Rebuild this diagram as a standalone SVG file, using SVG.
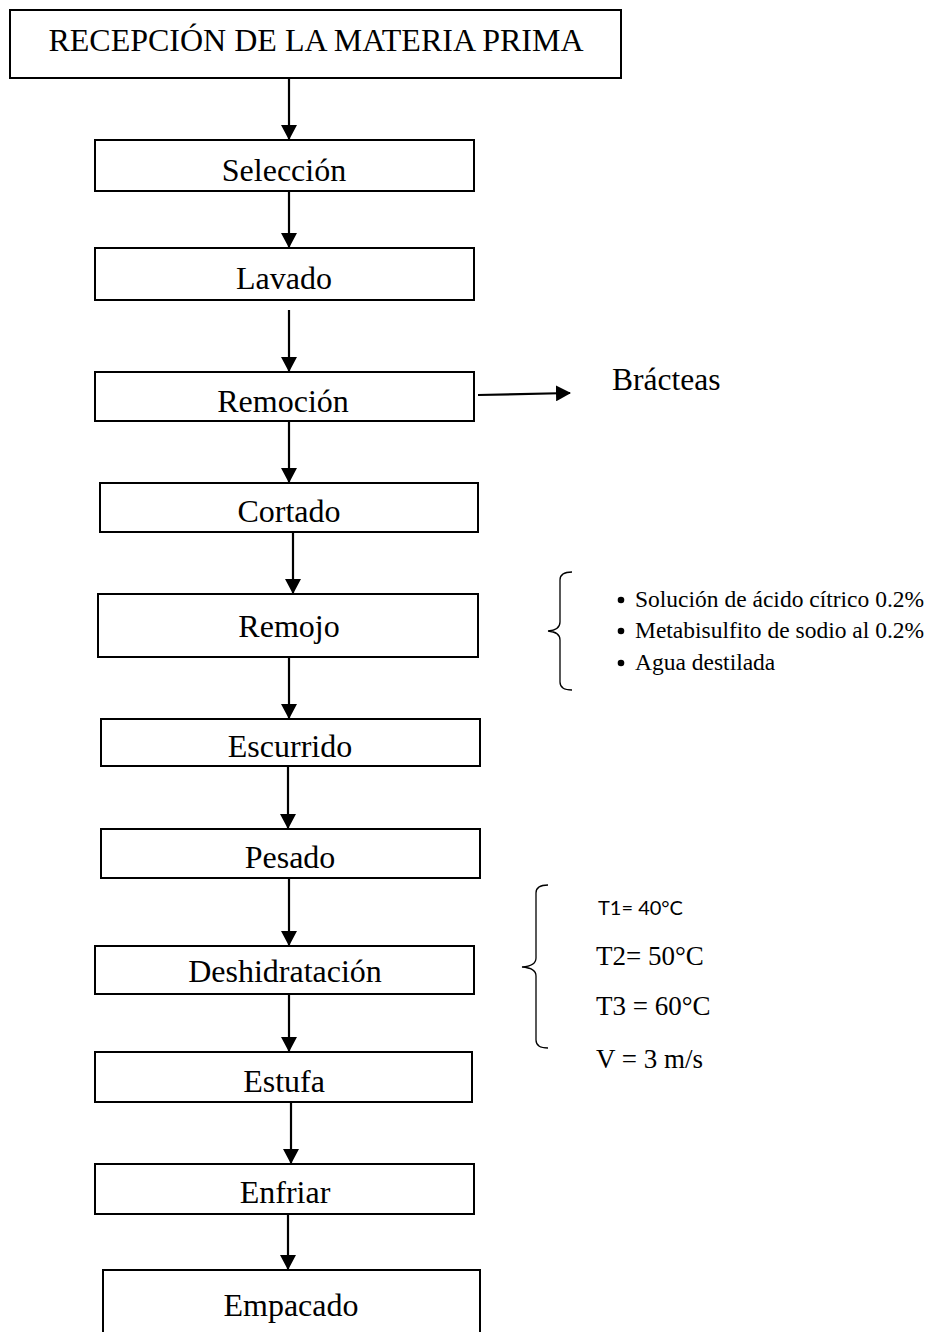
<svg xmlns="http://www.w3.org/2000/svg" width="936" height="1332" viewBox="0 0 936 1332">
<style>
.box{fill:#fff;stroke:#000;stroke-width:2}
.lbl{font-family:"Liberation Serif","Times New Roman",serif;font-size:32px;fill:#000;text-anchor:middle}
.side{font-family:"Liberation Serif","Times New Roman",serif;fill:#000}
.sans{font-family:Lato,"Liberation Sans",sans-serif;fill:#000}
.con{stroke:#000;stroke-width:2.2;fill:none}
.brace{stroke:#000;stroke-width:1.3;fill:none}
</style>
<defs>
<marker id="ah" viewBox="0 0 15 16" refX="14" refY="8" markerWidth="15" markerHeight="16" markerUnits="userSpaceOnUse" orient="auto"><path d="M0,0 L15,8 L0,16 z" fill="#000"/></marker>
</defs>
<rect width="936" height="1332" fill="#fff"/>
<g id="connectors">
<line class="con" x1="289" y1="79" x2="289" y2="139" marker-end="url(#ah)"/>
<line class="con" x1="289" y1="192" x2="289" y2="247" marker-end="url(#ah)"/>
<line class="con" x1="289" y1="310" x2="289" y2="371" marker-end="url(#ah)"/>
<line class="con" x1="478" y1="395" x2="570" y2="393" marker-end="url(#ah)"/>
<line class="con" x1="289" y1="422" x2="289" y2="482" marker-end="url(#ah)"/>
<line class="con" x1="293" y1="533" x2="293" y2="593" marker-end="url(#ah)"/>
<line class="con" x1="289" y1="658" x2="289" y2="718" marker-end="url(#ah)"/>
<line class="con" x1="288" y1="767" x2="288" y2="828" marker-end="url(#ah)"/>
<line class="con" x1="289" y1="879" x2="289" y2="945" marker-end="url(#ah)"/>
<line class="con" x1="289" y1="995" x2="289" y2="1051" marker-end="url(#ah)"/>
<line class="con" x1="291" y1="1103" x2="291" y2="1163" marker-end="url(#ah)"/>
<line class="con" x1="288" y1="1215" x2="288" y2="1269" marker-end="url(#ah)"/>
</g>
<g id="n-recepcion"><rect class="box" x="10" y="10" width="611" height="68"/><text class="lbl" x="316" y="51">RECEPCIÓN DE LA MATERIA PRIMA</text></g>
<g id="n-seleccion"><rect class="box" x="95" y="140" width="379" height="51"/><text class="lbl" x="284" y="181">Selección</text></g>
<g id="n-lavado"><rect class="box" x="95" y="248" width="379" height="52"/><text class="lbl" x="284" y="289">Lavado</text></g>
<g id="n-remocion"><rect class="box" x="95" y="372" width="379" height="49"/><text class="lbl" x="283" y="412">Remoción</text></g>
<g id="n-bracteas"><text class="side" x="612" y="390" font-size="31.5">Brácteas</text></g>
<g id="n-cortado"><rect class="box" x="100" y="483" width="378" height="49"/><text class="lbl" x="289" y="522">Cortado</text></g>
<g id="n-remojo"><rect class="box" x="98" y="594" width="380" height="63"/><text class="lbl" x="289" y="637">Remojo</text></g>
<g id="n-remojo-notes">
<path class="brace" d="M572,572 Q560,572 560,580 L560,622 Q560,630 548,631 Q560,632 560,640 L560,682 Q560,690 572,690"/>
<circle cx="621" cy="600" r="3.3"/><circle cx="621" cy="631" r="3.3"/><circle cx="621" cy="663" r="3.3"/>
<text class="side" x="635" y="607" font-size="23.5">Solución de ácido cítrico 0.2%</text>
<text class="side" x="635" y="638" font-size="23.5">Metabisulfito de sodio al 0.2%</text>
<text class="side" x="635" y="670" font-size="23.5">Agua destilada</text>
</g>
<g id="n-escurrido"><rect class="box" x="101" y="719" width="379" height="47"/><text class="lbl" x="290" y="757">Escurrido</text></g>
<g id="n-pesado"><rect class="box" x="101" y="829" width="379" height="49"/><text class="lbl" x="290" y="868">Pesado</text></g>
<g id="n-deshidratacion"><rect class="box" x="95" y="946" width="379" height="48"/><text class="lbl" x="285" y="982">Deshidratación</text></g>
<g id="n-deshidratacion-notes">
<path class="brace" d="M548,885 Q536,885 536,893 L536,958 Q536,966 522,967 Q536,968 536,976 L536,1040 Q536,1048 548,1048"/>
<text class="sans" x="598" y="915" font-size="20">T1= 40°C</text>
<text class="side" x="596" y="965" font-size="27">T2= 50°C</text>
<text class="side" x="596" y="1015" font-size="27">T3 = 60°C</text>
<text class="side" x="596" y="1068" font-size="27">V = 3 m/s</text>
</g>
<g id="n-estufa"><rect class="box" x="95" y="1052" width="377" height="50"/><text class="lbl" x="284" y="1092">Estufa</text></g>
<g id="n-enfriar"><rect class="box" x="95" y="1164" width="379" height="50"/><text class="lbl" x="285" y="1203">Enfriar</text></g>
<g id="n-empacado"><rect class="box" x="103" y="1270" width="377" height="64"/><text class="lbl" x="291" y="1316">Empacado</text></g>
</svg>
